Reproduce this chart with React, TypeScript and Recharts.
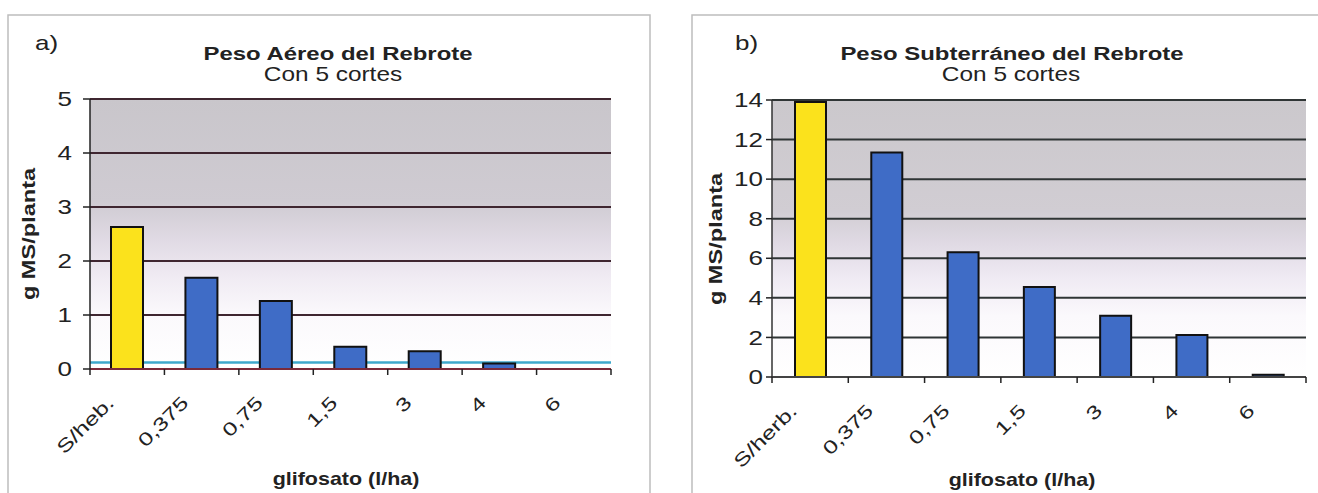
import React from 'react';
import { BarChart, Bar, XAxis, YAxis, CartesianGrid, Cell, ReferenceArea, ReferenceLine } from 'recharts';

// ---- data ----
const categoriesA = ['S/heb.', '0,375', '0,75', '1,5', '3', '4', '6'];
const valuesA = [2.63, 1.69, 1.26, 0.41, 0.33, 0.1, 0];
const ticksA = [0, 1, 2, 3, 4, 5];
const cyanLineA = 0.12;

const categoriesB = ['S/herb.', '0,375', '0,75', '1,5', '3', '4', '6'];
const valuesB = [13.9, 11.35, 6.3, 4.55, 3.1, 2.12, 0.12];
const ticksB = [0, 2, 4, 6, 8, 10, 12, 14];

const titleA = 'Peso Aéreo del Rebrote';
const titleB = 'Peso Subterráneo del Rebrote';
const subtitle = 'Con 5 cortes';
const xTitle = 'glifosato (l/ha)';
const yTitle = 'g MS/planta';

const dataA = categoriesA.map((c, i) => ({ cat: c, v: valuesA[i] }));
const dataB = categoriesB.map((c, i) => ({ cat: c, v: valuesB[i] }));

const FONT = '"Liberation Sans", Arial, Helvetica, sans-serif';
const YELLOW = '#fbe21c';
const BLUE = '#3f6cc6';
const TEXT = '#222222';

const makeXTick = (count: number, dx: number, dy: number) => (props: any) => {
  const { x, y, payload, index } = props;
  const off = payload && payload.offset ? payload.offset : 0;
  const axisY = y - 6;
  return (
    <g>
      <line x1={x - off} x2={x - off} y1={axisY} y2={axisY + 6} stroke="#222" strokeWidth={1.5} />
      {index === count - 1 ? (
        <line x1={x + off} x2={x + off} y1={axisY} y2={axisY + 6} stroke="#222" strokeWidth={1.5} />
      ) : null}
      <text
        transform={`translate(${x + dx},${axisY + dy}) rotate(-45) scale(1.35,1)`}
        textAnchor="end"
        fontSize={18.5}
        fill={TEXT}
        fontFamily={FONT}
      >
        {payload.value}
      </text>
    </g>
  );
};

const YTick = (props: any) => {
  const { x, y, payload } = props;
  return (
    <text
      transform={`translate(${x},${y}) scale(1.3,1)`}
      textAnchor="end"
      dy="0.36em"
      fontSize={20}
      fill={TEXT}
      fontFamily={FONT}
    >
      {payload.value}
    </text>
  );
};

const XTickA = makeXTick(categoriesA.length, -12, 35);
const XTickB = makeXTick(categoriesB.length, -12, 35);

export default function App() {
  return (
    <div
      style={{
        position: 'absolute',
        left: 0,
        top: 0,
        width: 1318,
        height: 493,
        background: '#ffffff',
        overflow: 'hidden',
        fontFamily: FONT,
      }}
    >
      <svg width={1318} height={493} style={{ position: 'absolute', left: 0, top: 0 }}>
        <defs>
          <linearGradient id="bgA" x1="0" y1="0" x2="0" y2="1">
            <stop offset="0%" stopColor="#c9c6cb" />
            <stop offset="38%" stopColor="#cfcbd2" />
            <stop offset="52%" stopColor="#e0dae4" />
            <stop offset="66%" stopColor="#f0ebf3" />
            <stop offset="80%" stopColor="#fbf9fc" />
            <stop offset="100%" stopColor="#ffffff" />
          </linearGradient>
          <linearGradient id="bgB" x1="0" y1="0" x2="0" y2="1">
            <stop offset="0%" stopColor="#cbc8cc" />
            <stop offset="40%" stopColor="#d1cdd3" />
            <stop offset="52%" stopColor="#e0dae4" />
            <stop offset="64%" stopColor="#efeaf3" />
            <stop offset="78%" stopColor="#fbf9fc" />
            <stop offset="100%" stopColor="#ffffff" />
          </linearGradient>
        </defs>
        <rect x={8} y={15} width={642} height={500} fill="none" stroke="#bdbdbd" strokeWidth={1.5} />
        <rect x={692} y={15} width={700} height={500} fill="none" stroke="#bdbdbd" strokeWidth={1.5} />
      </svg>

      <div style={{ position: 'absolute', left: 0, top: 0 }}>
        <BarChart width={650} height={493} data={dataA} margin={{ top: 99, right: 39, left: 0, bottom: 94 }}>
          <CartesianGrid vertical={false} stroke="#3f2630" strokeWidth={2} fill="url(#bgA)" />
          <ReferenceArea fill="none" stroke="#222" strokeWidth={1.5} ifOverflow="visible" />
          <XAxis
            dataKey="cat"
            height={30}
            tickLine={false}
            tickSize={6}
            tickMargin={0}
            interval={0}
            axisLine={{ stroke: '#7a2a3a', strokeWidth: 2 }}
            tick={XTickA}
          />
          <YAxis
            width={90}
            domain={[0, 5]}
            ticks={ticksA}
            interval={0}
            tickSize={7}
            tickMargin={11}
            tickLine={{ stroke: '#222', strokeWidth: 1.5 }}
            axisLine={{ stroke: '#222', strokeWidth: 1.5 }}
            tick={YTick}
          />
          <ReferenceLine y={cyanLineA} stroke="#3ea8cc" strokeWidth={2.5} {...({ zIndex: -50 } as any)} />
          <Bar dataKey="v" isAnimationActive={false} barSize={32} stroke="#111" strokeWidth={2}>
            {dataA.map((d, i) => (
              <Cell key={d.cat} fill={i === 0 ? YELLOW : BLUE} />
            ))}
          </Bar>
        </BarChart>
      </div>

      <div style={{ position: 'absolute', left: 660, top: 0 }}>
        <BarChart width={658} height={493} data={dataB} margin={{ top: 100, right: 12, left: 0, bottom: 86 }}>
          <CartesianGrid vertical={false} stroke="#2f3535" strokeWidth={2} fill="url(#bgB)" />
          <ReferenceArea fill="none" stroke="#9a9a9a" strokeWidth={1.5} ifOverflow="visible" />
          <XAxis
            dataKey="cat"
            height={30}
            tickLine={false}
            tickSize={6}
            tickMargin={0}
            interval={0}
            axisLine={{ stroke: '#444', strokeWidth: 2 }}
            tick={XTickB}
          />
          <YAxis
            width={112}
            domain={[0, 14]}
            ticks={ticksB}
            interval={0}
            tickSize={6}
            tickMargin={3}
            tickLine={{ stroke: '#222', strokeWidth: 1.5 }}
            axisLine={{ stroke: '#333', strokeWidth: 1.5 }}
            tick={YTick}
          />
          <Bar dataKey="v" isAnimationActive={false} barSize={31} stroke="#111" strokeWidth={2}>
            {dataB.map((d, i) => (
              <Cell key={d.cat} fill={i === 0 ? YELLOW : BLUE} />
            ))}
          </Bar>
        </BarChart>
      </div>

      <svg width={1318} height={493} style={{ position: 'absolute', left: 0, top: 0, pointerEvents: 'none' }}>
        <g fontFamily={FONT} fill={TEXT}>
          <text transform="translate(35,50) scale(1.3,1)" fontSize={20}>a)</text>
          <text transform="translate(338,60) scale(1.26,1)" textAnchor="middle" fontSize={19} fontWeight={700}>{titleA}</text>
          <text transform="translate(333,81) scale(1.22,1)" textAnchor="middle" fontSize={20}>{subtitle}</text>
          <text transform="translate(346,485) scale(1.13,1)" textAnchor="middle" fontSize={19} fontWeight={700}>{xTitle}</text>
          <text transform="translate(35,234) rotate(-90) scale(1.24,1)" textAnchor="middle" fontSize={19} fontWeight={700}>{yTitle}</text>

          <text transform="translate(735,50) scale(1.3,1)" fontSize={20}>b)</text>
          <text transform="translate(1012,60) scale(1.26,1)" textAnchor="middle" fontSize={19} fontWeight={700}>{titleB}</text>
          <text transform="translate(1011,81) scale(1.22,1)" textAnchor="middle" fontSize={20}>{subtitle}</text>
          <text transform="translate(1022,486) scale(1.13,1)" textAnchor="middle" fontSize={19} fontWeight={700}>{xTitle}</text>
          <text transform="translate(722,239) rotate(-90) scale(1.24,1)" textAnchor="middle" fontSize={19} fontWeight={700}>{yTitle}</text>
        </g>
      </svg>
    </div>
  );
}
